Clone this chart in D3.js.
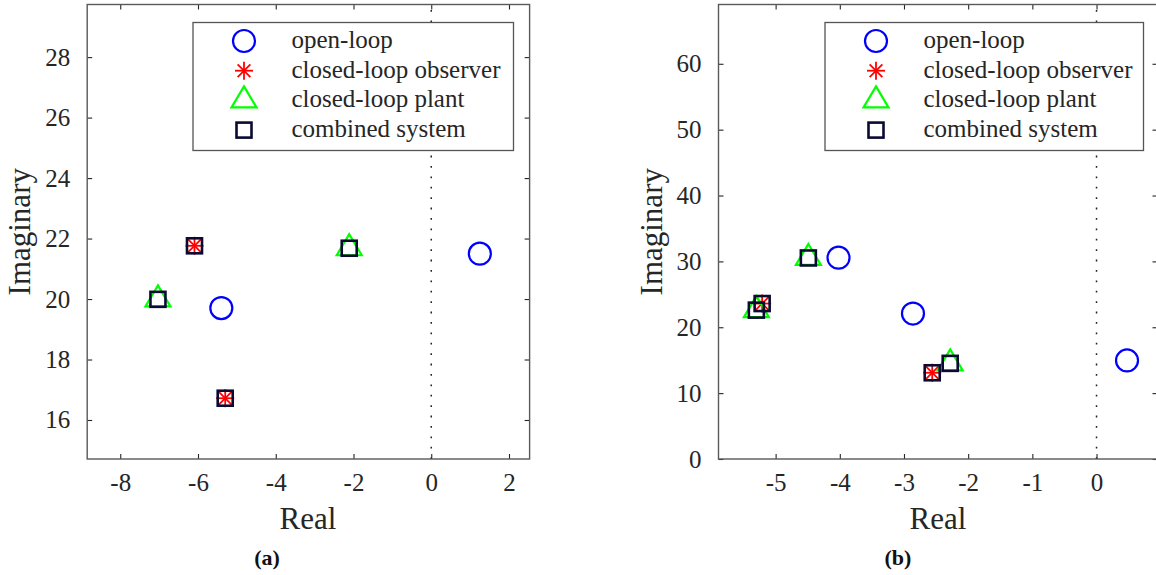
<!DOCTYPE html>
<html>
<head>
<meta charset="utf-8">
<script src="https://cdn.jsdelivr.net/npm/d3@7"></script>
<style>
  body { margin: 0; background: #fff; }
  svg { display: block; }
  text { font-family: "Liberation Serif", "Times New Roman", serif; fill: #262626; }
</style>
</head>
<body>
<div id="chart"></div>
<script>
// ---- data ----
var seriesNames = ['open-loop', 'closed-loop observer', 'closed-loop plant', 'combined system']

// panel (a)
var realTicksA = [-8, -6, -4, -2, 0, 2]
var imagTicksA = [16, 18, 20, 22, 24, 26, 28]
var openLoopReA = [1.25, -5.40]
var openLoopImA = [21.50, 19.70]
var observerReA = [-6.09, -5.30]
var observerImA = [21.76, 16.72]
var plantReA = [-7.03, -2.11]
var plantImA = [19.99, 21.68]
var combinedReA = [-6.09, -5.30, -7.03, -2.11]
var combinedImA = [21.76, 16.72, 19.99, 21.68]

// panel (b)
var realTicksB = [-5, -4, -3, -2, -1, 0]
var imagTicksB = [0, 10, 20, 30, 40, 50, 60]
var openLoopReB = [0.475, -2.86, -4.02]
var openLoopImB = [14.96, 22.08, 30.57]
var observerReB = [-5.21, -2.56]
var observerImB = [23.60, 13.09]
var plantReB = [-5.30, -4.49, -2.28]
var plantImB = [22.60, 30.52, 14.52]
var combinedReB = [-5.30, -5.21, -4.49, -2.56, -2.28]
var combinedImB = [22.60, 23.60, 30.52, 13.09, 14.52]

function zip(re, im) {
    return re.map(function (r, i) { return { re: r, im: im[i] } })
}

var W = 1156, H = 575
var svg = d3.select('#chart').append('svg')
    .attr('width', W)
    .attr('height', H)

var axisColor = '#262626'
var serif = '"Liberation Serif", "Times New Roman", serif'

// marker painters
function drawMarker(g, kind) {
    if (kind === 0) {
        g.append('circle').attr('r', 11)
            .attr('fill', 'none').attr('stroke', '#0000ff').attr('stroke-width', 2.2)
    } else if (kind === 1) {
        var r = 9
        ;[0, 45, 90, 135].forEach(function (a) {
            var t = a * Math.PI / 180
            g.append('line')
                .attr('x1', -r * Math.cos(t)).attr('y1', -r * Math.sin(t))
                .attr('x2', r * Math.cos(t)).attr('y2', r * Math.sin(t))
                .attr('stroke', '#ff0000').attr('stroke-width', 1.8)
        })
    } else if (kind === 2) {
        g.append('path').attr('d', 'M0,-14L12.5,7L-12.5,7Z')
            .attr('fill', 'none').attr('stroke', '#00ff00').attr('stroke-width', 2.2)
            .attr('stroke-linejoin', 'miter')
    } else {
        g.append('rect').attr('x', -7.5).attr('y', -7.5).attr('width', 15).attr('height', 15)
            .attr('fill', 'none').attr('stroke', '#0a0a33').attr('stroke-width', 2.6)
    }
}

function drawPanel(cfg) {
    var x = d3.scaleLinear().domain(cfg.xDomain).range([cfg.left, cfg.right])
    var y = d3.scaleLinear().domain(cfg.yDomain).range([cfg.bottom, cfg.top])
    var g = svg.append('g')
    var fmt = function (d) { return String(d) }   // plain hyphen minus, like the LaTeX labels

    // dotted line at Re = 0
    g.append('line')
        .attr('x1', x(0)).attr('x2', x(0))
        .attr('y1', cfg.bottom).attr('y2', cfg.top)
        .attr('stroke', '#222').attr('stroke-width', 1.5)
        .attr('stroke-dasharray', '1.8,8.6')

    // axes (ticks inside, box on)
    var tl = 5
    g.append('g').attr('transform', 'translate(0,' + cfg.bottom + ')')
        .call(d3.axisBottom(x).tickValues(cfg.xTicks).tickSizeInner(-tl).tickSizeOuter(0)
            .tickFormat(fmt).tickPadding(14))
        .call(styleAxis)
    g.append('g').attr('transform', 'translate(0,' + cfg.top + ')')
        .call(d3.axisTop(x).tickValues(cfg.xTicks).tickSizeInner(-tl).tickSizeOuter(0).tickFormat(''))
        .call(styleAxis)
    g.append('g').attr('transform', 'translate(' + cfg.left + ',0)')
        .call(d3.axisLeft(y).tickValues(cfg.yTicks).tickSizeInner(-tl).tickSizeOuter(0)
            .tickFormat(fmt).tickPadding(17))
        .call(styleAxis)
    g.append('g').attr('transform', 'translate(' + cfg.right + ',0)')
        .call(d3.axisRight(y).tickValues(cfg.yTicks).tickSizeInner(-tl).tickSizeOuter(0).tickFormat(''))
        .call(styleAxis)

    // markers in plotting order
    cfg.series.forEach(function (pts, k) {
        g.selectAll('.m' + k)
            .data(pts)
            .enter()
            .append('g')
            .attr('transform', function (d) { return 'translate(' + x(d.re) + ',' + y(d.im) + ')' })
            .each(function () { drawMarker(d3.select(this), k) })
    })

    // legend
    var lg = g.append('g').attr('transform', 'translate(' + cfg.legX + ',' + cfg.legY + ')')
    lg.append('rect').attr('width', cfg.legW).attr('height', 128)
        .attr('fill', '#fff').attr('stroke', '#555').attr('stroke-width', 1.3)
    seriesNames.forEach(function (name, k) {
        var row = lg.append('g').attr('transform', 'translate(0,' + (18.5 + k * 29.7) + ')')
        drawMarker(row.append('g').attr('transform', 'translate(51,0)'), k)
        row.append('text').attr('x', 98.5).attr('y', 7)
            .style('font-family', serif).style('font-size', '25px').text(name)
    })

    // axis titles
    g.append('text').attr('x', cfg.labelX).attr('y', 529)
        .attr('text-anchor', 'middle')
        .style('font-family', serif).style('font-size', '31px').text('Real')
    g.append('text')
        .attr('transform', 'translate(' + (cfg.left - 57) + ',' + ((cfg.top + cfg.bottom) / 2) + ') rotate(-90)')
        .attr('text-anchor', 'middle')
        .style('font-family', serif).style('font-size', '31px').text('Imaginary')
    g.append('text').attr('x', cfg.tagX).attr('y', 565)
        .attr('text-anchor', 'middle')
        .style('font-family', serif).style('font-size', '22px').style('font-weight', 'bold')
        .style('fill', '#111').text(cfg.tag)
}

function styleAxis(sel) {
    sel.attr('font-family', null).attr('font-size', null)
    sel.select('.domain').remove()
    sel.selectAll('line').attr('stroke', axisColor).attr('stroke-width', 1.1)
    sel.selectAll('text')
        .style('font-family', serif).style('font-size', '25px').style('fill', axisColor)
}

function drawFrame(cfg) {
    svg.append('rect')
        .attr('x', cfg.left).attr('y', cfg.top)
        .attr('width', cfg.right - cfg.left).attr('height', cfg.bottom - cfg.top)
        .attr('fill', 'none').attr('stroke', '#595959').attr('stroke-width', 1.4)
}

var panelA = {
    left: 87.2, right: 529.6, top: 4.5, bottom: 459,
    xDomain: [-8.85, 2.53], yDomain: [14.71, 29.74],
    xTicks: realTicksA, yTicks: imagTicksA,
    series: [zip(openLoopReA, openLoopImA), zip(observerReA, observerImA),
        zip(plantReA, plantImA), zip(combinedReA, combinedImA)],
    legX: 193, legY: 22.5, legW: 320.5,
    labelX: 308, tagX: 267, tag: '(a)'
}
var panelB = {
    left: 718.5, right: 1157.5, top: 4.5, bottom: 459,
    xDomain: [-5.89, 0.95], yDomain: [0, 69.0],
    xTicks: realTicksB, yTicks: imagTicksB,
    series: [zip(openLoopReB, openLoopImB), zip(observerReB, observerImB),
        zip(plantReB, plantImB), zip(combinedReB, combinedImB)],
    legX: 825, legY: 22.5, legW: 318.5,
    labelX: 938, tagX: 898, tag: '(b)'
}

drawPanel(panelA)
drawFrame(panelA)
drawPanel(panelB)
drawFrame(panelB)
</script>
</body>
</html>
